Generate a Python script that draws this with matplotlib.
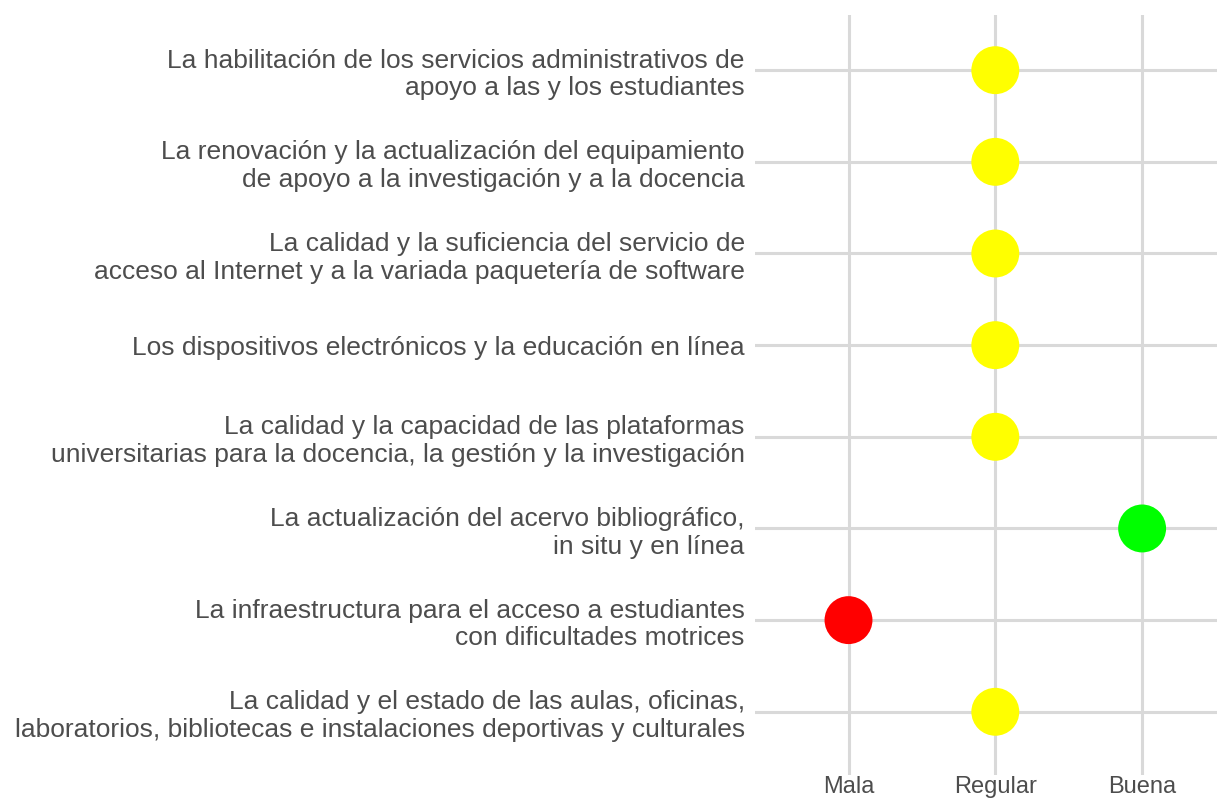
import matplotlib.pyplot as plt

plt.rcParams['font.family'] = ['Liberation Sans', 'DejaVu Sans']

# Aspectos evaluados (de arriba hacia abajo)
aspectos = [
    'La habilitación de los servicios administrativos de\napoyo a las y los estudiantes',
    'La renovación y la actualización del equipamiento\nde apoyo a la investigación y a la docencia',
    'La calidad y la suficiencia del servicio de\nacceso al Internet y a la variada paquetería de software',
    'Los dispositivos electrónicos y la educación en línea',
    'La calidad y la capacidad de las plataformas\nuniversitarias para la docencia, la gestión y la investigación',
    'La actualización del acervo bibliográfico,\nin situ y en línea',
    'La infraestructura para el acceso a estudiantes\ncon dificultades motrices',
    'La calidad y el estado de las aulas, oficinas,\nlaboratorios, bibliotecas e instalaciones deportivas y culturales',
]
calificaciones = ['Regular', 'Regular', 'Regular', 'Regular', 'Regular', 'Buena', 'Mala', 'Regular']

escala = ['Mala', 'Regular', 'Buena']
colores_escala = {'Mala': '#ff0000', 'Regular': '#ffff00', 'Buena': '#00ff00'}

fig = plt.figure(figsize=(12.17, 7.99), dpi=100)
ax = fig.add_axes([0.620, 0.030, 0.380, 0.951])

n = len(aspectos)
ys = [n - 1 - i for i in range(n)]
xs = [escala.index(c) for c in calificaciones]
cols = [colores_escala[c] for c in calificaciones]

ax.scatter(xs, ys, s=1190, c=cols, zorder=3, linewidths=0)

ax.set_xlim(-0.64, 2.51)
ax.set_ylim(-0.69, n - 1 + 0.6)
ax.set_xticks(range(len(escala)))
ax.set_xticklabels(escala)
ax.set_yticks(ys)
ax.set_yticklabels(aspectos)

ax.grid(True, color='#d9d9d9', linewidth=2.2, zorder=0)
ax.set_axisbelow(True)
for s in ax.spines.values():
    s.set_visible(False)
ax.tick_params(length=0, labelcolor='#4d4d4d')
ax.tick_params(axis='y', pad=7, labelsize=19)
ax.tick_params(axis='x', pad=1, labelsize=17)

fig.savefig('out.png', dpi=100)
